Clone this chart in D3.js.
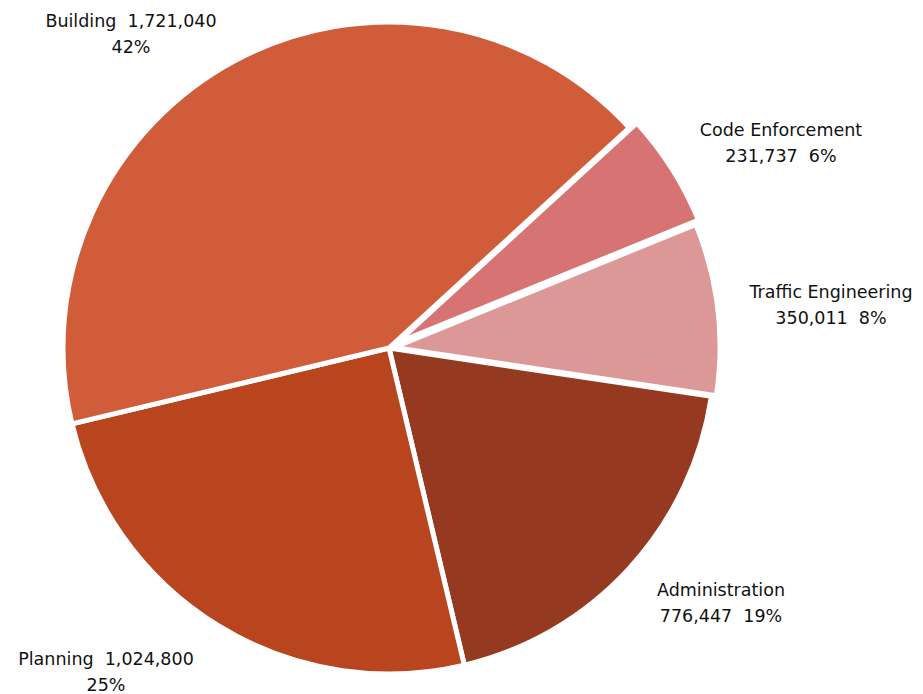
<!DOCTYPE html>
<html lang="en">
<head>
    <meta charset="UTF-8">
    <title>Department Budget Pie</title>
    <style>
        body {
            margin: 0;
            padding: 0;
            background: #ffffff;
        }
        .label {
            font-family: "DejaVu Sans", Arial, sans-serif;
            font-size: 17.5px;
            fill: #111;
            text-anchor: middle;
        }
    </style>
</head>
<body>
    <div id="chart"></div>

    <script src="https://cdnjs.cloudflare.com/ajax/libs/d3/7.8.5/d3.min.js"></script>
    <script>
        // data, in drawing order (clockwise from Code Enforcement)
        const categories = ['Code Enforcement', 'Traffic Engineering', 'Administration', 'Planning', 'Building'];
        const amounts = [231737, 350011, 776447, 1024800, 1721040];
        const percents = ['6%', '8%', '19%', '25%', '42%'];
        const colors = ['#d77373', '#dc9896', '#953a21', '#b9451e', '#d15c39'];

        const width = 923, height = 694;
        const cx = 389, cy = 348, radius = 326;

        // how far a slice is pulled out from the centre
        const explode = { 'Code Enforcement': 9, 'Traffic Engineering': 5 };

        // label placement (centre x, baseline y of first line) and line layout
        const labelPos = {
            'Building':            { x: 131, y: 27, two: d => [d.name + '  ' + d.fmt, d.pct] },
            'Code Enforcement':    { x: 781, y: 136, two: d => [d.name, d.fmt + '  ' + d.pct] },
            'Traffic Engineering': { x: 831, y: 298, two: d => [d.name, d.fmt + '  ' + d.pct] },
            'Administration':      { x: 721, y: 596, two: d => [d.name, d.fmt + '  ' + d.pct] },
            'Planning':            { x: 106, y: 665, two: d => [d.name + '  ' + d.fmt, d.pct] }
        };

        const data = categories.map((c, i) => ({
            name: c,
            value: amounts[i],
            pct: percents[i],
            fmt: d3.format(',')(amounts[i]),
            color: colors[i]
        }));

        const svg = d3.select('#chart')
            .append('svg')
            .attr('width', width)
            .attr('height', height);

        const startDeg = 47.5;
        const pie = d3.pie()
            .sort(null)
            .value(d => d.value)
            .startAngle(startDeg * Math.PI / 180)
            .endAngle((startDeg + 360) * Math.PI / 180);

        const arc = d3.arc()
            .innerRadius(0)
            .outerRadius(radius);

        const g = svg.append('g')
            .attr('transform', `translate(${cx},${cy})`);

        g.selectAll('path')
            .data(pie(data))
            .enter()
            .append('path')
            .attr('d', arc)
            .attr('fill', d => d.data.color)
            .attr('stroke', '#fff')
            .attr('stroke-width', 5)
            .attr('stroke-linejoin', 'round')
            .attr('transform', d => {
                const off = explode[d.data.name] || 0;
                const mid = (d.startAngle + d.endAngle) / 2;
                return `translate(${off * Math.sin(mid)},${-off * Math.cos(mid)})`;
            });

        // labels
        data.forEach(d => {
            const p = labelPos[d.name];
            const lines = p.two(d);
            const t = svg.append('text')
                .attr('class', 'label')
                .attr('x', p.x)
                .attr('y', p.y);
            lines.forEach((ln, i) => {
                t.append('tspan')
                    .attr('x', p.x)
                    .attr('dy', i === 0 ? 0 : 26)
                    .style('white-space', 'pre')
                    .text(ln);
            });
        });
    </script>
</body>
</html>
